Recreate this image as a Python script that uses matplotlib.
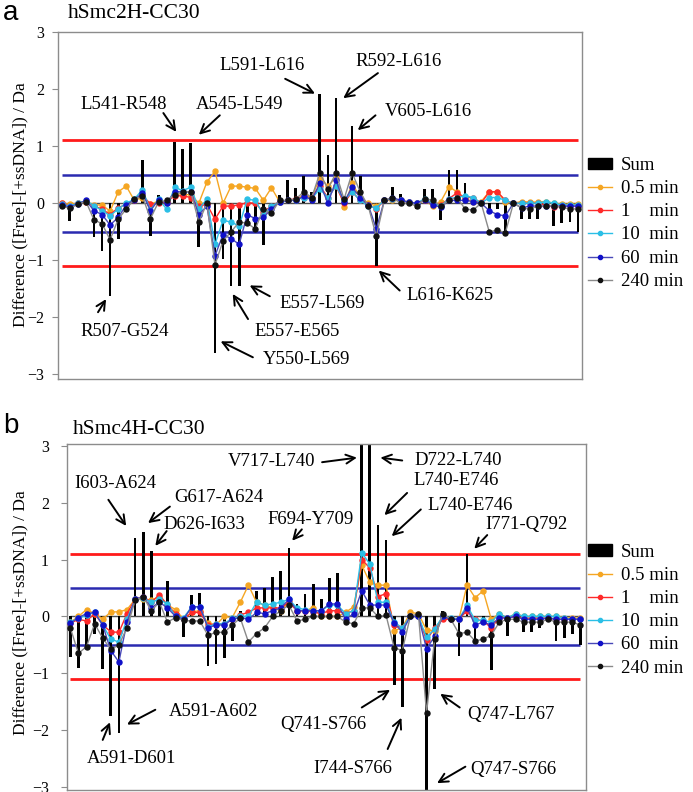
import matplotlib
matplotlib.use('Agg')
import matplotlib.pyplot as plt
import numpy as np
from matplotlib.patches import Patch
from matplotlib.lines import Line2D

plt.rcParams['font.family'] = ['Liberation Serif', 'DejaVu Serif']

# ---- panel a: hSmc2H-CC30 ----
a_sum = [-0.05, -0.32, -0.05, 0.05, -0.59, -0.83, -1.63, -0.63, -0.15, 0.1,
         0.75, -0.57, 0.15, 0.05, 1.08, 0.95, 1.05, -0.77, 0.05, -2.63,
         -0.98, -1.45, -1.45, -0.35, -0.47, -0.73, -0.2, 0.15, 0.4, 0.26,
         0.48, 0.2, 1.92, 0.85, 1.85, 0.07, 1.35, 0.47, -0.05, -1.1,
         0.07, 0.28, 0.17, 0.05, -0.1, 0.25, 0.25, -0.3, 0.58, 0.58,
         0.35, 0.1, 0.03, -0.1, -0.1, -0.55, 0.0, -0.27, -0.28, -0.27,
         -0.1, -0.4, -0.35, -0.33, -0.5]
a_05 = [0.0, -0.02, 0.0, 0.03, -0.03, -0.03, -0.14, 0.2, 0.3, 0.05,
        0.1, -0.02, 0.04, 0.0, 0.18, 0.15, 0.15, 0.0, 0.37, 0.56,
        0.0, 0.3, 0.3, 0.28, 0.26, 0.05, 0.27, 0.03, 0.05, 0.05,
        0.15, 0.1, 0.45, 0.3, 0.45, -0.07, 0.35, 0.1, 0.0, -0.05,
        0.05, 0.05, 0.05, 0.02, 0.0, 0.05, -0.05, 0.03, 0.29, 0.2,
        0.08, 0.03, 0.03, 0.2, 0.2, 0.03, 0.0, 0.03, 0.02, 0.02,
        0.03, 0.0, -0.02, -0.02, -0.02]
a_1 = [0.0, -0.05, 0.0, 0.03, -0.05, -0.1, -0.2, -0.08, -0.02, 0.05,
       0.15, -0.02, 0.0, 0.02, 0.13, 0.13, 0.1, -0.05, -0.02, -0.28,
       -0.05, -0.05, -0.03, 0.01, 0.0, -0.15, -0.05, 0.03, 0.05, 0.08,
       0.1, 0.1, 0.3, 0.1, 0.3, 0.0, 0.2, 0.05, -0.03, -0.1,
       0.05, 0.08, 0.05, 0.02, 0.0, 0.05, 0.0, -0.03, 0.08, 0.18,
       0.1, 0.1, 0.0, 0.2, 0.2, 0.05, 0.0, 0.0, 0.0, 0.0,
       -0.03, -0.07, -0.05, -0.05, -0.05]
a_10 = [-0.02, -0.05, 0.0, 0.04, -0.04, -0.13, -0.22, -0.1, 0.0, 0.07,
        0.24, -0.12, 0.07, -0.1, 0.28, 0.22, 0.28, -0.1, 0.07, -0.72,
        -0.3, -0.33, -0.4, 0.07, 0.05, -0.2, -0.05, 0.02, 0.05, 0.06,
        0.1, 0.08, 0.25, 0.1, 0.3, 0.05, 0.2, 0.05, -0.05, -0.08,
        0.05, 0.08, 0.05, 0.02, 0.0, 0.08, 0.0, -0.05, 0.08, 0.1,
        0.13, 0.1, 0.0, 0.1, 0.1, 0.05, 0.0, 0.0, 0.0, 0.0,
        0.03, 0.0, -0.03, -0.03, -0.03]
a_60 = [-0.03, -0.07, -0.01, 0.05, -0.13, -0.2, -0.38, -0.25, -0.03, 0.06,
        0.18, -0.13, 0.06, 0.0, 0.2, 0.2, 0.2, -0.2, -0.05, -0.92,
        -0.55, -0.62, -0.72, -0.2, -0.27, -0.25, -0.1, 0.02, 0.05, 0.05,
        0.12, 0.06, 0.35, 0.0, 0.4, 0.02, 0.28, 0.1, -0.03, -0.45,
        0.05, 0.1, 0.05, 0.02, 0.0, 0.05, -0.03, -0.07, 0.05, 0.05,
        0.05, 0.03, 0.0, -0.13, -0.2, -0.22, 0.0, -0.08, -0.05, -0.05,
        -0.05, -0.05, -0.05, -0.05, -0.05]
a_240 = [-0.05, -0.09, -0.02, 0.03, -0.29, -0.36, -0.64, -0.28, -0.1, 0.07,
         0.12, -0.27, 0.02, 0.05, 0.15, 0.2, 0.2, -0.33, 0.0, -1.08,
         -0.66, -0.5, -0.33, -0.35, -0.45, -0.1, -0.18, 0.05, 0.05, 0.07,
         0.2, 0.1, 0.53, 0.25, 0.53, 0.07, 0.53, 0.2, -0.05, -0.58,
         0.05, 0.1, 0.0, 0.0, -0.05, 0.08, 0.05, -0.05, 0.05, 0.1,
         -0.1, -0.12, 0.0, -0.5, -0.47, -0.52, 0.0, -0.08, -0.1, -0.05,
         -0.05, -0.05, -0.07, -0.1, -0.1]

# ---- panel b: hSmc4H-CC30 ----
b_sum = [-0.72, -0.9, -0.53, -0.3, -0.93, -1.75, -2.05, -0.2, 1.38, 1.48,
         1.15, 0.35, 0.63, 0.1, -0.37, 0.38, 0.42, -0.87, -0.83, -0.73,
         -0.43, 0.1, 0.1, 0.45, 0.5, 0.7, 0.8, 1.2, 0.22, 0.4,
         0.57, 0.3, 0.67, 0.77, 0.1, 0.15, 3.5, 3.5, 1.6, 1.35,
         -1.2, -1.6, 0.07, 0.05, -3.5, -1.27, 0.1, -0.05, -0.7, 1.1,
         -0.45, -0.1, -0.95, -0.1, -0.35, -0.05, -0.27, -0.27, -0.2, -0.1,
         -0.43, -0.38, -0.3, -0.5]
b_05 = [-0.1, 0.0, 0.12, 0.05, -0.05, 0.08, 0.08, 0.12, 0.3, 0.3,
        0.28, 0.35, 0.2, 0.12, -0.05, 0.08, 0.1, -0.12, -0.15, 0.0,
        -0.02, 0.25, 0.55, 0.25, 0.2, 0.15, 0.1, 0.25, 0.1, 0.1,
        0.15, 0.0, 0.0, 0.0, 0.07, 0.17, 0.9, 0.6, 0.55, 0.55,
        -0.25, -0.2, 0.07, 0.05, -0.24, -0.25, 0.0, -0.05, -0.05, 0.55,
        0.33, 0.45, -0.05, 0.05, -0.03, 0.05, 0.0, 0.0, 0.0, 0.0,
        0.0, -0.02, -0.03, -0.03]
b_1 = [-0.12, -0.05, -0.08, 0.05, -0.15, -0.27, -0.28, 0.05, 0.3, 0.35,
       0.25, 0.38, 0.2, 0.05, -0.05, 0.07, 0.07, -0.15, -0.13, -0.13,
       -0.05, 0.03, 0.07, 0.15, 0.15, 0.15, 0.15, 0.25, 0.1, 0.1,
       0.08, 0.05, 0.1, 0.1, 0.05, 0.1, 1.0, 0.85, 0.35, 0.4,
       -0.15, -0.2, 0.0, 0.0, -0.42, -0.2, -0.05, -0.05, -0.05, 0.1,
       -0.05, -0.08, -0.2, -0.02, -0.03, 0.0, -0.03, -0.03, -0.03, -0.03,
       -0.05, -0.05, -0.05, -0.05]
b_10 = [-0.1, -0.03, 0.02, 0.07, -0.15, -0.4, -0.45, -0.05, 0.3, 0.32,
        0.25, 0.3, 0.22, 0.0, -0.02, 0.17, 0.17, -0.18, -0.13, -0.13,
        -0.03, 0.0, 0.0, 0.25, 0.2, 0.22, 0.25, 0.3, 0.15, 0.12,
        0.1, 0.1, 0.2, 0.2, 0.05, 0.1, 1.12, 0.92, 0.25, 0.25,
        -0.1, -0.2, 0.0, 0.0, -0.37, -0.22, 0.0, -0.03, -0.05, 0.2,
        -0.07, -0.07, -0.1, 0.05, -0.03, 0.05, 0.0, 0.0, 0.0, 0.0,
        0.0, -0.03, -0.05, -0.05]
b_60 = [-0.12, -0.02, 0.05, 0.07, -0.15, -0.6, -0.8, -0.1, 0.3, 0.35,
        0.15, 0.25, 0.15, 0.0, -0.05, 0.17, 0.17, -0.2, -0.15, -0.15,
        -0.05, -0.02, -0.05, 0.07, 0.05, 0.1, 0.15, 0.3, 0.1, 0.1,
        0.1, 0.1, 0.22, 0.22, -0.05, 0.05, 0.45, 0.2, 0.2, 0.2,
        -0.12, -0.27, 0.0, 0.0, -0.57, -0.35, 0.0, -0.05, -0.05, 0.15,
        -0.15, -0.1, -0.15, -0.02, -0.03, 0.0, -0.05, -0.05, -0.05, -0.03,
        -0.05, -0.05, -0.05, -0.05]
b_240 = [-0.2, -0.65, -0.53, -0.13, -0.38, -0.58, -0.5, -0.2, 0.28, 0.35,
         0.1, 0.25, -0.1, -0.02, -0.07, -0.08, -0.08, -0.33, -0.28, -0.28,
         -0.15, -0.03, -0.45, -0.3, -0.2, 0.0, 0.1, 0.2, -0.08, -0.05,
         0.0, 0.0, 0.0, 0.0, -0.1, -0.13, 0.15, 0.15, 0.0, 0.02,
         -0.55, -0.6, 0.0, 0.05, -1.7, -0.4, 0.05, -0.05, -0.3, -0.28,
         -0.43, -0.4, -0.33, -0.1, -0.05, -0.05, -0.1, -0.1, -0.1, -0.05,
         -0.1, -0.1, -0.1, -0.15]

series_labels = ['0.5 min', '1    min', '10  min', '60  min', '240 min']
line_colors = ['#F5A623', '#FF2A2A', '#2BBFE6', '#4848B8', '#8A8A8A']
marker_colors = ['#F5A623', '#FF2A2A', '#2BBFE6', '#1010C8', '#111111']

# (text, text_x, text_y, tail_x, tail_y, tip_x, tip_y) in data units
a_notes = [
    ('L541-R548', 7.7, 1.73, 12.6, 1.58, 14.2, 1.25),
    ('A545-L549', 22.1, 1.73, 19.6, 1.54, 17.0, 1.20),
    ('L591-L616', 24.8, 2.41, 27.7, 2.18, 31.4, 1.92),
    ('R592-L616', 41.8, 2.49, 39.2, 2.28, 34.9, 1.84),
    ('V605-L616', 45.4, 1.61, 38.9, 1.54, 36.7, 1.28),
    ('R507-G524', 7.8, -2.25, 4.5, -1.91, 5.5, -1.68),
    ('Y550-L569', 30.3, -2.73, 23.7, -2.70, 19.7, -2.42),
    ('E557-E565', 29.2, -2.25, 23.1, -2.03, 21.2, -1.59),
    ('E557-L569', 32.3, -1.75, 25.8, -1.63, 23.3, -1.44),
    ('L616-K625', 48.1, -1.61, 41.9, -1.53, 39.3, -1.18),
]
b_notes = [
    ('V717-L740', 24.8, 2.72, 31.1, 2.71, 35.4, 2.79),
    ('D722-L740', 47.9, 2.74, 41.0, 2.74, 38.3, 2.79),
    ('L740-E746', 47.6, 2.38, 41.6, 2.17, 38.8, 1.78),
    ('L740-E746', 49.4, 1.95, 43.3, 1.88, 39.7, 1.41),
    ('I771-Q792', 56.3, 1.62, 51.5, 1.43, 49.9, 1.19),
    ('F694-Y709', 29.7, 1.71, 28.6, 1.53, 27.4, 1.33),
    ('I603-A624', 5.5, 2.33, 4.7, 2.05, 6.9, 1.59),
    ('G617-A624', 18.4, 2.09, 12.3, 1.93, 9.6, 1.64),
    ('D626-I633', 16.5, 1.62, 11.9, 1.50, 10.5, 1.24),
    ('A591-A602', 17.7, -1.67, 10.5, -1.64, 7.0, -1.90),
    ('A591-D601', 7.6, -2.50, 4.0, -2.17, 4.9, -1.86),
    ('Q741-S766', 31.3, -1.90, 36.0, -1.60, 39.5, -1.29),
    ('I744-S766', 34.9, -2.67, 39.2, -2.33, 40.9, -1.78),
    ('Q747-L767', 54.4, -1.72, 48.1, -1.60, 45.7, -1.36),
    ('Q747-S766', 54.7, -2.69, 48.8, -2.64, 45.3, -2.93),
]


def draw_panel(ax, sums, series, notes, xlim, ylim, legend_xy, tick_pad):
    n = len(sums)
    x = np.arange(n)
    ax.hlines([1.1, -1.1], 0, n - 1, color='#FF1A1A', lw=2.0, zorder=1)
    ax.hlines([0.5, -0.5], 0, n - 1, color='#2A2AB0', lw=1.8, zorder=1)
    ax.hlines(0, 0, n - 1, color='#505050', lw=1.0, zorder=1)
    ax.bar(x, sums, width=0.34, color='black', zorder=2)
    for vals, lc, mc in zip(series, line_colors, marker_colors):
        ax.plot(x, vals, '-', color=lc, lw=1.0, marker='o', markersize=3.6,
                markerfacecolor=mc, markeredgecolor=mc, zorder=3)
    for txt, tx, ty, sx, sy, ex, ey in notes:
        ax.text(tx, ty, txt, fontsize=13.5, ha='center', va='center', zorder=5)
        ax.annotate('', xy=(ex, ey), xytext=(sx, sy),
                    arrowprops=dict(arrowstyle='->', lw=1.4, color='black',
                                    mutation_scale=16, shrinkA=0, shrinkB=0),
                    zorder=5)
    ax.set_xlim(*xlim)
    ax.set_ylim(*ylim)
    ax.set_yticks([-3, -2, -1, 0, 1, 2, 3])
    ax.set_xticks([])
    for sp in ax.spines.values():
        sp.set_color('#8C8C8C')
        sp.set_linewidth(1.0)
    ax.tick_params(axis='y', direction='out', length=4, color='#8C8C8C',
                   labelsize=11.5, pad=tick_pad)

    handles = [Patch(facecolor='black', edgecolor='black', label='Sum')]
    for lab, lc, mc in zip(series_labels, line_colors, marker_colors):
        handles.append(Line2D([0], [0], color=lc, lw=1.0, marker='o', markersize=3,
                              markerfacecolor=mc, markeredgecolor=mc, label=lab))
    ax.legend(handles=handles, loc='upper left', bbox_to_anchor=legend_xy,
              frameon=False, fontsize=13.5, handlelength=1.25, handleheight=0.55,
              handletextpad=0.5, labelspacing=0.33, borderaxespad=0, borderpad=0)


fig = plt.figure(figsize=(6.93, 7.92), dpi=100)
ax_a = fig.add_axes([58 / 693, 1 - 379 / 792, 524 / 693, 347 / 792])
ax_b = fig.add_axes([67 / 693, 1 - 790 / 792, 519 / 693, 346 / 792])

draw_panel(ax_a, a_sum, [a_05, a_1, a_10, a_60, a_240], a_notes,
           (-0.46, 64.5), (-3.08, 3.0), (1.012, 0.64), 6)
draw_panel(ax_b, b_sum, [b_05, b_1, b_10, b_60, b_240], b_notes,
           (-0.41, 63.7), (-3.05, 3.03), (1.004, 0.712), 9)

ylab = 'Difference ([Free]-[+ssDNA]) / Da'
fig.text(20 / 693, 1 - 205 / 792, ylab, rotation=90, ha='center', va='center', fontsize=12.5)
fig.text(20 / 693, 1 - 613 / 792, ylab, rotation=90, ha='center', va='center', fontsize=12.5)

fig.text(68 / 693, 1 - 13 / 792, 'hSmc2H-CC30', ha='left', va='center', fontsize=15.5)
fig.text(73 / 693, 1 - 430 / 792, 'hSmc4H-CC30', ha='left', va='center', fontsize=15.5)
fig.text(3 / 693, 1 - 13 / 792, 'a', ha='left', va='center', fontsize=20,
         family=['Liberation Sans', 'DejaVu Sans'])
fig.text(3 / 693, 1 - 426 / 792, 'b', ha='left', va='center', fontsize=20,
         family=['Liberation Sans', 'DejaVu Sans'])

fig.savefig('out.png', dpi=100)
plt.close(fig)
